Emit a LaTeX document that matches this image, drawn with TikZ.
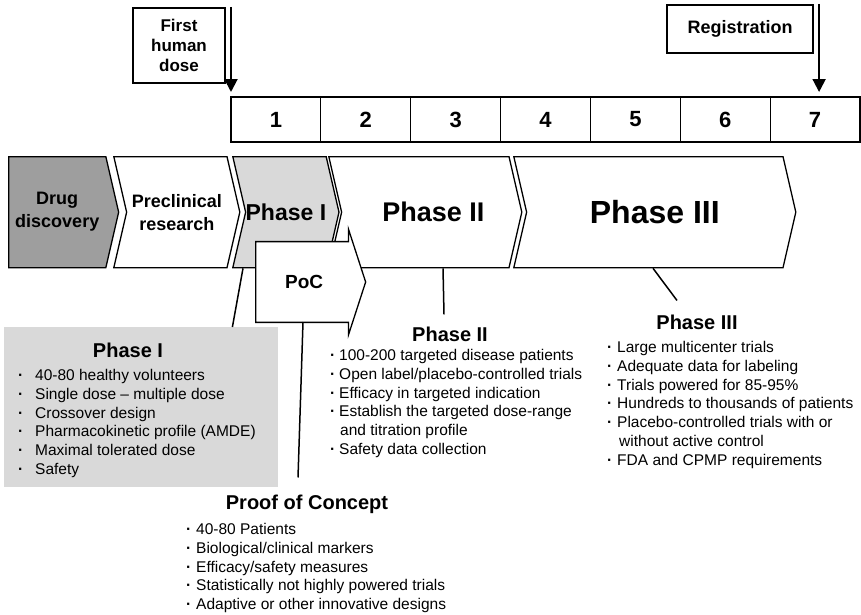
\documentclass[tikz,border=0pt]{standalone}
\usepackage{fontspec}
\setmainfont{Liberation Sans}
\usepackage{tikz}
\usetikzlibrary{positioning, arrows.meta, shapes.symbols, shapes.arrows, calc}

\newcommand{\itm}[1][10pt]{\makebox[#1][l]{\bfseries\textperiodcentered}}

\begin{document}
\begin{tikzpicture}[
  x=1pt, y=-1pt,
  font=\fontsize{15.5}{18.8}\selectfont,
  cell/.style={draw, line width=1.1pt, minimum width=89.86pt,
    minimum height=45pt, inner sep=0pt, outer sep=0pt,
    font=\fontsize{22}{22}\selectfont\bfseries},
  flag/.style={draw, line width=2.4pt, align=center, inner sep=0pt,
    font=\fontsize{17}{20}\selectfont\bfseries},
  pointer/.style={line width=2pt, -{Triangle[width=13pt,length=13pt]}},
  chev/.style={signal, draw, line width=1.3pt, signal to=east,
    signal from=west, signal pointer angle=154, minimum height=111pt,
    inner sep=0pt, align=center, fill=white, anchor=north west,
    font=\fontsize{18}{23}\selectfont\bfseries},
  head/.style={inner sep=2pt, font=\fontsize{20}{20}\selectfont\bfseries},
  list/.style={align=left, inner sep=0pt, anchor=north west},
  link/.style={line width=1.5pt},
]
  \useasboundingbox (0,0) rectangle (861,614);

  % timeline
  \node[cell, anchor=north west] (c1) at (231,97) {1};
  \foreach \i [count=\j] in {2,...,7}
    \node[cell, right=0pt of c\j] (c\i) {\i};

  % milestones
  \node[flag, minimum width=92pt, minimum height=75pt] (fhd) at (179,45.5)
    {First\\human\\dose};
  \node[flag, minimum width=146pt, minimum height=48pt,
    font=\fontsize{18}{20}\selectfont\bfseries] (reg) at (740,29) {Registration};
  \coordinate (regtip) at ($(c7.north)+(4,0)$);
  \draw[pointer, shorten >=5pt] (c1.north west |- fhd.north) -- (c1.north west);
  \draw[pointer, shorten >=5pt] (regtip |- reg.north) -- (regtip);

  % development stages
  \node[chev, signal from=nowhere, fill=black!38, minimum width=110pt]
    (drug) at (8,156) {Drug\\discovery};
  \node[chev, minimum width=126pt] (pre) at (113,156) {Preclinical\\research};
  \node[chev, fill=black!15, minimum width=103pt,
    font=\fontsize{23}{23}\selectfont\bfseries] (ph1) at (232,156) {Phase I};
  \node[chev, minimum width=193pt,
    font=\fontsize{27}{27}\selectfont\bfseries] (ph2) at (328,156)
    {\hspace*{16pt}Phase II};
  \node[chev, minimum width=282pt,
    font=\fontsize{32}{32}\selectfont\bfseries] (ph3) at (513,156) {Phase III};
  \node[single arrow, draw, fill=white, line width=1.3pt, inner xsep=0pt,
    inner ysep=33pt, minimum height=110pt, single arrow head extend=12.5pt,
    single arrow tip angle=144, anchor=tail,
    font=\fontsize{19}{19}\selectfont\bfseries] (poc) at (255,282) {PoC};

  % Phase I box
  \node[fill=black!15, minimum width=274pt, minimum height=160pt,
    inner sep=0pt, anchor=north west] (p1box) at (4,327) {};
  \node[head] (p1T) at (128,350) {Phase I};
  \node[list] (p1L) at (18,369) {\itm[17pt]40-80 healthy volunteers\\
    \itm[17pt]Single dose -- multiple dose\\
    \itm[17pt]Crossover design\\
    \itm[17pt]Pharmacokinetic profile (AMDE)\\
    \itm[17pt]Maximal tolerated dose\\
    \itm[17pt]Safety};

  % Phase II notes
  \node[head] (p2T) at (450,334) {Phase II};
  \node[list] (p2L) at (330,349) {\itm[9pt]100-200 targeted disease patients\\
    \itm[9pt]Open label/placebo-controlled trials\\
    \itm[9pt]Efficacy in targeted indication\\
    \itm[9pt]Establish the targeted dose-range\\
    \hspace{10pt}and titration profile\\
    \itm[9pt]Safety data collection};

  % Phase III notes
  \node[head] (p3T) at (697,322) {Phase III};
  \node[list] (p3L) at (607,341) {\itm Large multicenter trials\\
    \itm Adequate data for labeling\\
    \itm Trials powered for 85-95\%\\
    \itm Hundreds to thousands of patients\\
    \itm Placebo-controlled trials with or\\
    \hspace{12pt}without active control\\
    \itm FDA and CPMP requirements};

  % Proof of concept notes
  \node[head] (pocT) at (307,504) {Proof of Concept};
  \node[list] (pocL) at (186,523) {\itm 40-80 Patients\\
    \itm Biological/clinical markers\\
    \itm Efficacy/safety measures\\
    \itm Statistically not highly powered trials\\
    \itm Adaptive or other innovative designs};

  % leader lines
  \draw[link] ($(ph1.south west)+(11,0)$) -- ($(p1box.north east)+(-46,0)$);
  \draw[link] ($(poc.tail)+(48,40)$) -- ($(pocT.north)+(-9,-15)$);
  \draw[link] ($(ph2.south west)+(115,0)$) -- ($(p2T.north)+(-6,-10)$);
  \draw[link] ($(ph3.south west)+(140,0)$) -- ($(p3T.north)+(-20,-12)$);
\end{tikzpicture}
\end{document}
